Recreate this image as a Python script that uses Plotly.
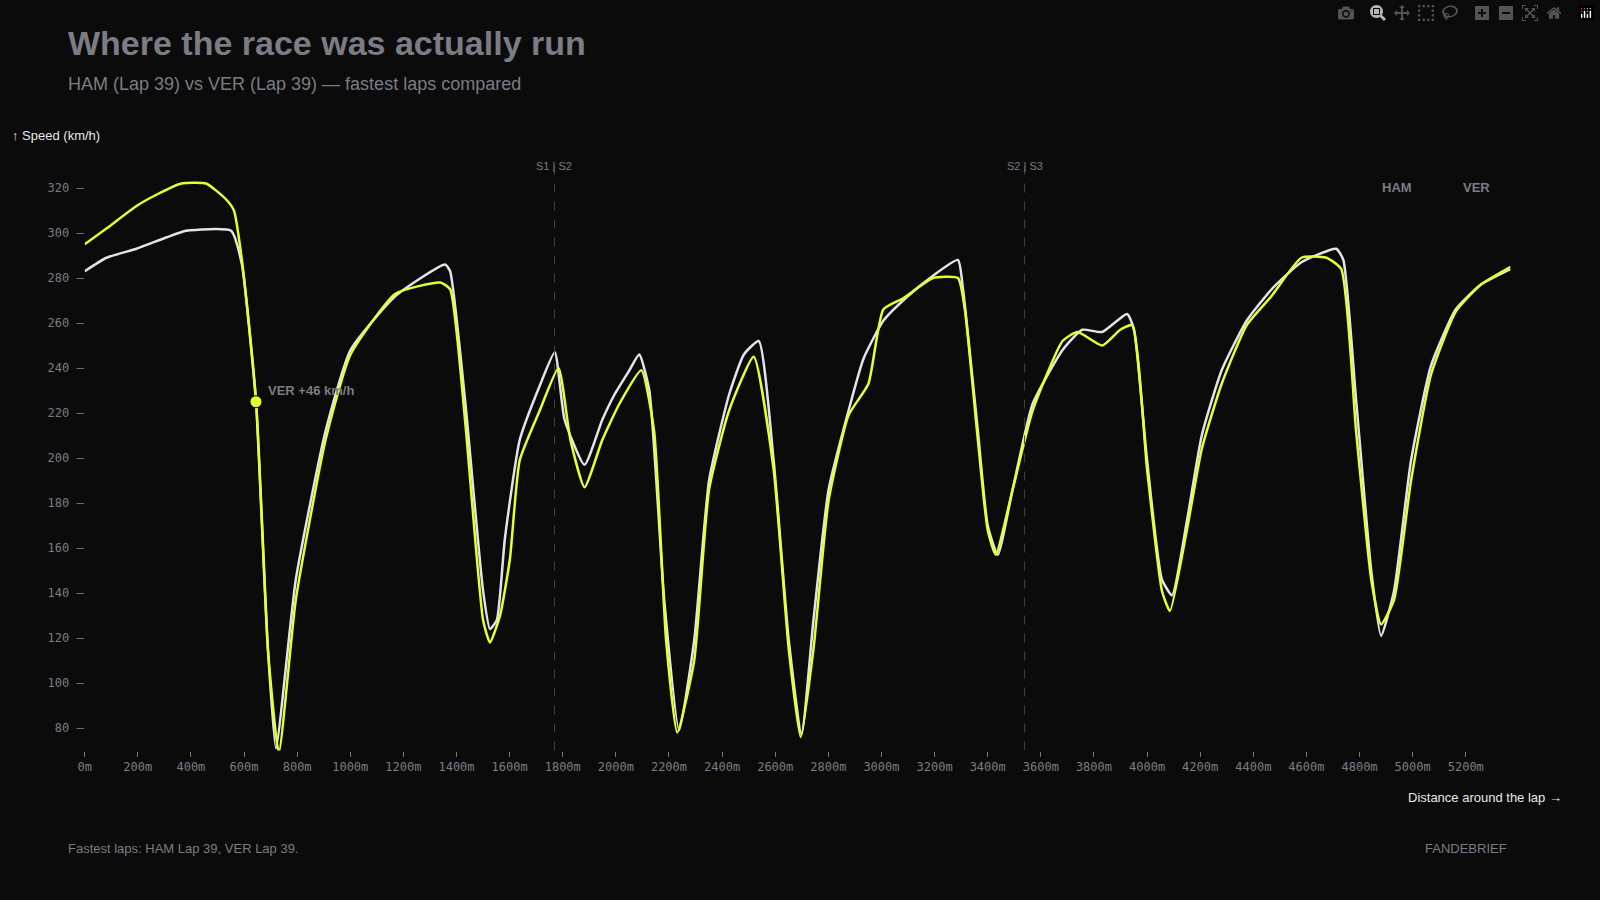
import plotly.graph_objects as go

# fastest lap telemetry, distance (m) vs speed (km/h)
ham_dist = [0, 82, 195, 307, 382, 551, 592, 645, 690, 720, 795, 907, 1001, 1170, 1357, 1376,
            1432, 1500, 1526, 1552, 1582, 1638, 1713, 1770, 1807, 1882, 1949, 1994, 2051, 2088,
            2126, 2182, 2238, 2295, 2351, 2426, 2482, 2538, 2594, 2651, 2699, 2744, 2801, 2876,
            2932, 3007, 3100, 3194, 3288, 3307, 3363, 3400, 3438, 3494, 3569, 3682, 3756, 3831,
            3925, 3951, 4000, 4056, 4094, 4150, 4206, 4281, 4375, 4469, 4581, 4712, 4739, 4787,
            4844, 4881, 4930, 4994, 5069, 5162, 5256, 5369]
ham_speed = [283, 289, 293, 298, 301, 301, 286, 226, 115, 71, 146, 212, 248, 272, 286, 283,
             226, 141, 124, 128, 164, 208, 232, 247, 217, 197, 217, 228, 239, 246,
             230, 137, 79, 119, 190, 228, 246, 252, 199, 119, 77, 128, 186, 221,
             244, 261, 272, 281, 288, 275, 212, 170, 157, 186, 224, 248, 257, 256,
             264, 257, 199, 146, 139, 172, 210, 239, 261, 275, 287, 293, 288, 226,
             150, 121, 141, 199, 241, 266, 277, 284]

ver_dist = [0, 82, 195, 270, 364, 457, 532, 562, 592, 645, 690, 731, 795, 907, 1001, 1170,
            1339, 1376, 1432, 1500, 1526, 1564, 1601, 1638, 1713, 1784, 1829, 1882, 1949, 2013,
            2096, 2144, 2189, 2231, 2295, 2351, 2426, 2519, 2594, 2651, 2696, 2744, 2801, 2876,
            2951, 3007, 3082, 3194, 3288, 3314, 3363, 3400, 3430, 3494, 3569, 3682, 3738, 3831,
            3899, 3944, 4000, 4056, 4086, 4150, 4206, 4281, 4375, 4469, 4581, 4675, 4731, 4787,
            4844, 4881, 4930, 4994, 5069, 5162, 5256, 5369]
ver_speed = [295, 302, 312, 317, 322, 322, 315, 310, 288, 225, 115, 69, 137, 208, 246, 273,
             278, 275, 217, 128, 118, 130, 155, 199, 221, 240, 208, 187, 208, 224,
             239, 212, 119, 78, 110, 186, 221, 245, 195, 115, 76, 115, 181, 219,
             233, 266, 271, 280, 280, 266, 208, 168, 157, 186, 221, 252, 256, 250,
             257, 259, 195, 141, 132, 168, 204, 233, 259, 272, 289, 289, 284, 212,
             146, 126, 137, 190, 237, 265, 277, 285]

sector_marks = [1769, 3539]
sector_names = ["S1 | S2", "S2 | S3"]
callout_dist, callout_speed = 645, 225

HAM_C = "#e4e4e8"
VER_C = "#e6ff2e"
GREY = "#7c7c84"

fig = go.Figure()
fig.add_trace(go.Scatter(x=ham_dist, y=ham_speed, mode="lines", name="HAM",
                         line=dict(color=HAM_C, width=2.5, shape="spline", smoothing=0.5)))
fig.add_trace(go.Scatter(x=ver_dist, y=ver_speed, mode="lines", name="VER",
                         line=dict(color=VER_C, width=2.5, shape="spline", smoothing=0.5)))
fig.add_trace(go.Scatter(x=[callout_dist], y=[callout_speed], mode="markers",
                         marker=dict(color=VER_C, size=12, line=dict(color="#0b0b0b", width=1))))

for d, n in zip(sector_marks, sector_names):
    fig.add_shape(type="line", x0=d, x1=d, y0=70, y1=330, xref="x", yref="y",
                  line=dict(color="#444", width=1, dash="dash"))
    fig.add_annotation(x=d, y=330, xref="x", yref="y", text=n, showarrow=False,
                       yanchor="middle", font=dict(size=11, color=GREY))

fig.add_annotation(x=callout_dist, y=callout_speed, text="<b>VER +46 km/h</b>", showarrow=False,
                   xanchor="left", yanchor="bottom", xshift=10, yshift=2,
                   font=dict(size=13, color=GREY))

anns = [
    dict(x=59, y=43, text="<b>Where the race was actually run</b>", size=34, color=GREY, anchor="left"),
    dict(x=59, y=84, text="HAM (Lap 39) vs VER (Lap 39) — fastest laps compared", size=18, color=GREY, anchor="left"),
    dict(x=3, y=135, text="↑ Speed (km/h)", size=13, color="#e8e8e8", anchor="left"),
    dict(x=1564, y=797, text="Distance around the lap →", size=13, color="#e8e8e8", anchor="right"),
    dict(x=59, y=848, text="Fastest laps: HAM Lap 39, VER Lap 39.", size=13, color=GREY, anchor="left"),
    dict(x=1509, y=848, text="FANDEBRIEF", size=13, color=GREY, anchor="right"),
    dict(x=1396, y=187, text="<b>HAM</b>", size=13, color=GREY, anchor="center"),
    dict(x=1476, y=187, text="<b>VER</b>", size=13, color=GREY, anchor="center"),
]
for a in anns:
    fig.add_annotation(x=a["x"] / 1600, y=1 - a["y"] / 900, xref="paper", yref="paper",
                       text=a["text"], showarrow=False, xanchor=a["anchor"], yanchor="middle",
                       font=dict(size=a["size"], color=a["color"]))

# annotations above use whole-page coords, so the plot domain is set with margins
fig.update_layout(
    width=1600, height=900,
    margin=dict(l=0, r=0, t=0, b=0),
    paper_bgcolor="#0b0b0b", plot_bgcolor="#0b0b0b",
    font=dict(family="Liberation Sans, Arial, sans-serif", color=GREY),
    showlegend=False,
    xaxis=dict(domain=[78 / 1600, 1510 / 1600], range=[0, 5368],
               tickvals=list(range(0, 5201, 200)),
               ticktext=[f"{v}m" for v in range(0, 5201, 200)],
               ticks="outside", ticklen=5, tickcolor="#777", showgrid=False, zeroline=False,
               showline=False,
               tickfont=dict(family="DejaVu Sans Mono", size=12, color=GREY)),
    yaxis=dict(domain=[1 - 750.5 / 900, 1 - 165.5 / 900], range=[70, 330],
               tickvals=list(range(80, 321, 20)),
               ticktext=[f"{v} –" for v in range(80, 321, 20)],
               ticks="", showgrid=False, zeroline=False,
               tickfont=dict(family="DejaVu Sans Mono", size=12, color=GREY)),
)

fig.write_html("out.html", post_script="document.body.style.margin='0';")
